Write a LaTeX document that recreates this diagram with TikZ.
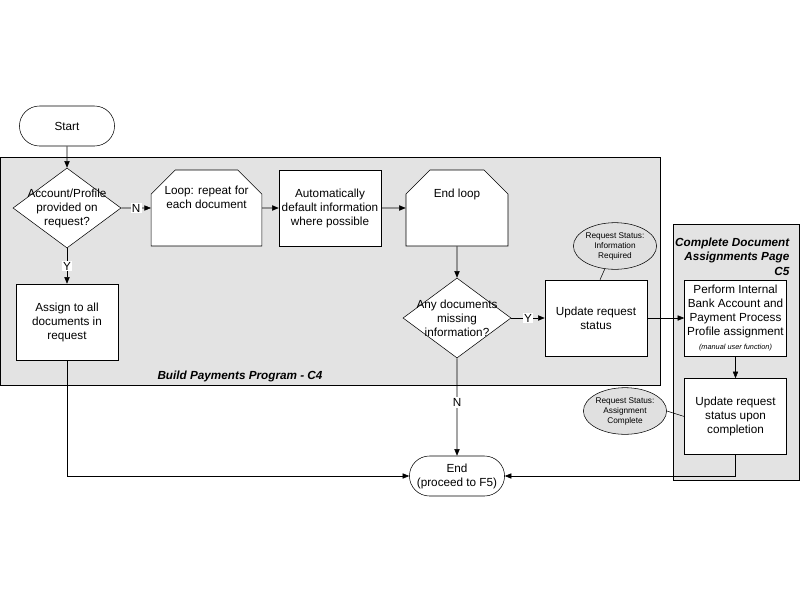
\documentclass[tikz,border=0pt]{standalone}
\usepackage{fontspec}
\setmainfont{Liberation Sans}
\usetikzlibrary{shapes.geometric,shapes.misc,arrows.meta}
\begin{document}
\begin{tikzpicture}[x=0.75pt,y=-0.75pt,
  font=\fontsize{8.8}{10.5}\selectfont,
  box/.style={draw,fill=white,minimum width=76.5pt,minimum height=57pt,align=center,inner sep=1pt},
  cham/.style={box,chamfered rectangle,chamfered rectangle corners={north east,north west},chamfered rectangle xsep=9pt,chamfered rectangle ysep=9pt},
  dia/.style={draw,fill=white,diamond,minimum width=81pt,minimum height=60pt,inner sep=0pt},
  term/.style={draw,fill=white,rounded rectangle,minimum width=78pt,minimum height=30pt,align=center},
  stat/.style={draw,fill=black!12,ellipse,minimum width=57pt,minimum height=35pt,inner sep=0pt,align=center,font=\fontsize{6.2}{7.5}\selectfont},
  lane/.style={draw,fill=black!11},
  arr/.style={-{Triangle[length=5pt,width=4pt]}},
  lbl/.style={fill=white,inner sep=1pt}]
\useasboundingbox (0,0) rectangle (800,600);
\draw[lane] (0,157) rectangle (660,385);
\draw[lane] (673,224) rectangle (799,480);
\node[font=\fontsize{8.8}{10.5}\selectfont\bfseries\itshape] (c4) at (240,376) {Build Payments Program - C4};
\node[font=\fontsize{8.8}{11}\selectfont\bfseries\itshape,align=right,anchor=north east] (c5) at (794,233) {Complete Document\\Assignments Page\\C5};
\node[term] (start) at (67,126) {Start};
\node[dia,label={[align=center]center:{Account/Profile\\provided on\\request?}}] (d1) at (67,208) {};
\node[cham] (loop) at (206.5,208) {Loop: repeat for\\each document\\[6pt]};
\node[box] (auto) at (330,208) {Automatically\\default information\\where possible};
\node[cham] (endl) at (457,208) {End loop\\[12pt]};
\node[box] (assign) at (67,322) {Assign to all\\documents in\\request};
\node[dia,label={[align=center]center:{Any documents\\missing\\information?}}] (d2) at (457,318) {};
\node[box] (upd) at (596,318) {Update request\\status};
\node[box] (perf) at (735.5,318) {Perform Internal\\Bank Account and\\Payment Process\\Profile assignment\\{\fontsize{5.5}{7}\selectfont\itshape (manual user function)}};
\node[box] (upd2) at (735.5,416.5) {Update request\\status upon\\completion};
\node[term] (end) at (457,476) {End\\(proceed to F5)};
\node[stat] (s1) at (615,246) {Request Status:\\Information\\Required};
\node[stat] (s2) at (625,411) {Request Status:\\Assignment\\Complete};
\draw[arr] (start) -- (d1);
\draw[arr] (d1) -- node[lbl]{N} (loop);
\draw[arr] (d1) -- node[lbl]{Y} (assign);
\draw[arr] (loop) -- (auto);
\draw[arr] (auto) -- (endl);
\draw[arr] (endl) -- (d2);
\draw[arr] (d2) -- node[lbl]{Y} (upd);
\draw[arr] (d2) -- node[lbl,pos=0.45]{N} (end);
\draw[arr] (upd) -- (perf);
\draw[arr] (perf) -- (upd2);
\draw[arr] (assign) |- (end);
\draw[arr] (upd2.south) |- (end);
\draw (s1) -- (upd.north west -| 600,0);
\draw (s2.east) -- (upd2.west);
\end{tikzpicture}
\end{document}
